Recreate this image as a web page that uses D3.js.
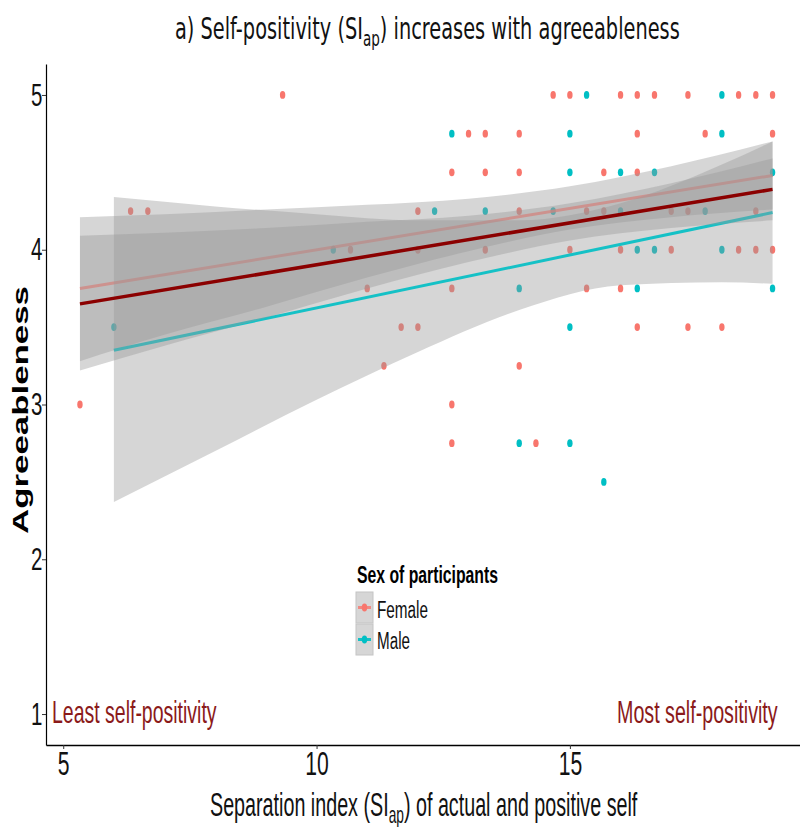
<!DOCTYPE html>
<html>
<head>
<meta charset="utf-8">
<script src="https://cdn.jsdelivr.net/npm/d3@7"></script>
<style>
  html, body { margin: 0; padding: 0; background: #fff; }
  svg { display: block; }
</style>
</head>
<body>
<svg id="chart" width="800" height="827"></svg>
<script>
// ---- data: separation index (SI_ap) vs agreeableness, by sex ----
const femaleSI = [9.33, 14.67, 15, 16, 16.33, 16.67, 17.33, 18.33, 18.67, 19,
  13, 13.33, 14, 16.33, 17.67, 19,
  12.67, 13.33, 14, 15.67, 16.33,
  6.33, 6.67, 12, 14, 15.33, 15.67, 17, 17.33, 18.67,
  10.67, 12, 13.33, 15, 16, 17, 18.33, 18.67, 19,
  11, 12.67, 15.33, 16,
  11.67, 12, 16.33, 17.33, 18,
  11.33, 14,
  5.33, 12.67,
  12.67, 14.33];
const femaleAgree = [5, 5, 5, 5, 5, 5, 5, 5, 5, 5,
  4.75, 4.75, 4.75, 4.75, 4.75, 4.75,
  4.5, 4.5, 4.5, 4.5, 4.5,
  4.25, 4.25, 4.25, 4.25, 4.25, 4.25, 4.25, 4.25, 4.25,
  4, 4, 4, 4, 4, 4, 4, 4, 4,
  3.75, 3.75, 3.75, 3.75,
  3.5, 3.5, 3.5, 3.5, 3.5,
  3.25, 3.25,
  3, 3,
  2.75, 2.75];

const maleSI = [15.33, 18,
  12.67, 15, 18,
  15, 16, 16.67, 19,
  12.33, 13.33, 14.67, 16, 17.67,
  10.33, 16.33, 16.67, 18,
  14, 16.33, 19,
  6, 15,
  14, 15,
  15.67];
const maleAgree = [5, 5,
  4.75, 4.75, 4.75,
  4.5, 4.5, 4.5, 4.5,
  4.25, 4.25, 4.25, 4.25, 4.25,
  4, 4, 4, 4,
  3.75, 3.75, 3.75,
  3.5, 3.5,
  2.75, 2.75,
  2.5];

// fitted linear trends (end points) and their 95% confidence bands
const femaleFitX = [5.33, 19];
const femaleFitY = [3.75, 4.48];
const maleFitX = [6, 19];
const maleFitY = [3.35, 4.24];
const allFitX = [5.33, 19];
const allFitY = [3.65, 4.39];

const femaleBandX  = [5.33, 7, 9, 11, 13, 15, 17, 19];
const femaleBandLo = [3.28, 3.45, 3.63, 3.82, 3.99, 4.13, 4.21, 4.26];
const femaleBandHi = [4.21, 4.23, 4.26, 4.29, 4.33, 4.41, 4.54, 4.70];

const maleBandX  = [6, 8, 10, 12, 14, 16, 18, 19];
const maleBandLo = [2.37, 2.70, 3.03, 3.34, 3.61, 3.77, 3.79, 3.78];
const maleBandHi = [4.34, 4.28, 4.23, 4.19, 4.19, 4.30, 4.55, 4.70];

const allBandX  = [5.33, 7, 9, 11, 13, 15, 17, 19];
const allBandLo = [3.22, 3.38, 3.56, 3.75, 3.92, 4.06, 4.14, 4.19];
const allBandHi = [4.09, 4.11, 4.14, 4.18, 4.22, 4.30, 4.43, 4.59];

const xTicks = [5, 10, 15];
const yTicks = [1, 2, 3, 4, 5];
const legendLabels = ["Female", "Male"];

const FEMALE = "#F8766D", MALE = "#00BFC4", OVERALL = "#8B0000", NOTE = "#8B1A1A";
const SANS = "'Liberation Sans', Arial, sans-serif";

// ---- scales ----
const svg = d3.select("#chart");
const x = d3.scaleLinear().domain([4.66, 19.68]).range([46, 807]);
const y = d3.scaleLinear().domain([0.8, 5.2]).range([745, 64]);

// squeeze a text element horizontally so that it spans [x0, x1]
function fit(sel, x0, x1) {
  const b = sel.node().getBBox();
  const s = (x1 - x0) / b.width;
  sel.attr("transform", `translate(${x0 - b.x * s},0) scale(${s},1)`);
  return sel;
}

const plot = svg.append("g");
plot.append("clipPath").attr("id", "clip")
  .append("rect").attr("x", 46).attr("y", 40).attr("width", 760).attr("height", 705);
const inner = plot.append("g").attr("clip-path", "url(#clip)");

// ---- points ----
function drawPoints(xs, ys, color) {
  inner.append("g").selectAll("ellipse")
    .data(xs.map((v, i) => [v, ys[i]]))
    .join("ellipse")
    .attr("cx", d => x(d[0])).attr("cy", d => y(d[1]))
    .attr("rx", 2.7).attr("ry", 3.9)
    .attr("fill", color);
}
drawPoints(femaleSI, femaleAgree, FEMALE);
drawPoints(maleSI, maleAgree, MALE);

// ---- smoothers: band then line, per group, then overall ----
const area = d3.area().curve(d3.curveMonotoneX)
  .x(d => x(d[0])).y0(d => y(d[1])).y1(d => y(d[2]));
const line = d3.line().x(d => x(d[0])).y(d => y(d[1]));

function drawSmooth(bx, lo, hi, fx, fy, color, width, opacity) {
  inner.append("path")
    .datum(bx.map((v, i) => [v, lo[i], hi[i]]))
    .attr("d", area)
    .attr("fill", "#999999").attr("fill-opacity", 0.4);
  inner.append("path")
    .datum(fx.map((v, i) => [v, fy[i]]))
    .attr("d", line)
    .attr("fill", "none").attr("stroke", color)
    .attr("stroke-width", width).attr("stroke-opacity", opacity);
}
drawSmooth(femaleBandX, femaleBandLo, femaleBandHi, femaleFitX, femaleFitY, FEMALE, 3, 0.75);
drawSmooth(maleBandX, maleBandLo, maleBandHi, maleFitX, maleFitY, MALE, 3, 0.9);
drawSmooth(allBandX, allBandLo, allBandHi, allFitX, allFitY, OVERALL, 3.5, 1);

// ---- axes ----
const TICK_SX = 0.64;
const yAxis = svg.append("g").attr("transform", "translate(46,0)")
  .call(d3.axisLeft(y).tickValues(yTicks).tickSizeInner(4).tickSizeOuter(0)
    .tickPadding(2).tickFormat(d3.format("d")));
yAxis.select(".domain").attr("stroke", "#000").attr("stroke-width", 1.2);
yAxis.selectAll(".tick line").attr("stroke", "#333");
yAxis.selectAll(".tick text")
  .attr("font-family", SANS).attr("font-size", 32).attr("fill", "#111")
  .attr("x", -3.5 / TICK_SX)
  .attr("transform", `scale(${TICK_SX},1)`);

const xAxis = svg.append("g").attr("transform", "translate(0,745)")
  .call(d3.axisBottom(x).tickValues(xTicks).tickSizeInner(4).tickSizeOuter(0)
    .tickPadding(3).tickFormat(d3.format("d")));
xAxis.select(".domain").attr("stroke", "#000").attr("stroke-width", 1.6);
xAxis.selectAll(".tick line").attr("stroke", "#333");
xAxis.selectAll(".tick text")
  .attr("font-family", SANS).attr("font-size", 33).attr("fill", "#111")
  .attr("transform", `scale(${TICK_SX},1)`);

// ---- titles ----
const title = svg.append("text").attr("y", 39)
  .attr("font-family", "'DejaVu Sans', sans-serif").attr("font-size", 30).attr("fill", "#111");
title.append("tspan").text("a) Self-positivity (SI");
title.append("tspan").attr("font-size", 21).attr("dy", 7).text("ap");
title.append("tspan").attr("dy", -7).text(") increases with agreeableness");
fit(title, 175, 680);

const xTitle = svg.append("text").attr("y", 816)
  .attr("font-family", SANS).attr("font-size", 33).attr("fill", "#111");
xTitle.append("tspan").text("Separation index (SI");
xTitle.append("tspan").attr("font-size", 23).attr("dy", 7).text("ap");
xTitle.append("tspan").attr("dy", -7).text(") of actual and positive self");
fit(xTitle, 210, 638);

svg.append("text")
  .attr("transform", "translate(28,410) scale(0.62,1) rotate(-90)")
  .attr("text-anchor", "middle")
  .attr("font-family", SANS).attr("font-weight", "bold").attr("font-size", 35)
  .attr("textLength", 248).attr("lengthAdjust", "spacingAndGlyphs")
  .attr("fill", "#000")
  .text("Agreeableness");

// ---- end-of-scale notes ----
fit(svg.append("text").attr("y", 723).attr("font-family", SANS).attr("font-size", 31)
  .attr("fill", NOTE).text("Least self-positivity"), 52, 217);
fit(svg.append("text").attr("y", 723).attr("font-family", SANS).attr("font-size", 31)
  .attr("fill", NOTE).text("Most self-positivity"), 617, 778);

// ---- legend ----
const legend = svg.append("g");
fit(legend.append("text").attr("y", 583).attr("font-family", SANS).attr("font-weight", "bold")
  .attr("font-size", 23).attr("fill", "#000").text("Sex of participants"), 357, 498);
const keyY = [592, 624];
const keyBaseline = [618, 649];
const keyRight = [428, 410];
[FEMALE, MALE].forEach((c, i) => {
  const k = legend.append("g").attr("transform", `translate(356,${keyY[i]})`);
  k.append("rect").attr("width", 17).attr("height", 31)
    .attr("fill", "#D6D6D6").attr("stroke", "#C4C4C4").attr("stroke-width", 1);
  k.append("line").attr("x1", 2).attr("x2", 15).attr("y1", 15.5).attr("y2", 15.5)
    .attr("stroke", c).attr("stroke-width", 3).attr("stroke-opacity", i === 0 ? 0.8 : 0.9);
  k.append("ellipse").attr("cx", 8.5).attr("cy", 15.5).attr("rx", 2.7).attr("ry", 3.9).attr("fill", c);
  fit(legend.append("text").attr("y", keyBaseline[i]).attr("font-family", SANS)
    .attr("font-size", 23).attr("fill", "#111").text(legendLabels[i]), 377, keyRight[i]);
});
</script>
</body>
</html>
